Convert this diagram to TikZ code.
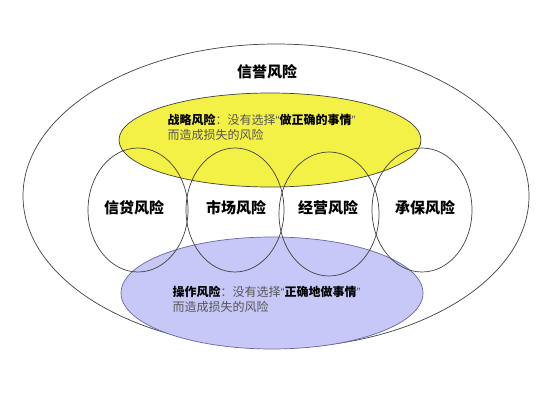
\documentclass[tikz,border=0pt]{standalone}
\usepackage{fontspec}
\newfontfamily\cjk{Noto Sans CJK SC}
\newfontfamily\qfont{Liberation Sans}
\definecolor{zlyellow}{RGB}{244,241,70}
\definecolor{czblue}{RGB}{200,200,248}
\definecolor{txtgray}{RGB}{85,85,85}
\newcommand{\openq}{{\qfont “}}
\newcommand{\closeq}{{\qfont ”}}

\begin{document}
\begin{tikzpicture}[x=1pt,y=-1pt,line width=0.7pt,
  rim/.style={draw=black!75},
  big/.style={font=\cjk\bfseries\fontsize{15}{18}\selectfont},
  note/.style={font=\cjk\fontsize{12}{15}\selectfont,align=left,anchor=west,text=txtgray}]
%\draw[help lines] (0,0) grid (553,415);
\useasboundingbox (0,0) rectangle (553,415);
\draw[rim] (276,196) ellipse (253 and 152);
\draw[rim,fill=zlyellow] (270,140) ellipse (151 and 47);
\draw[rim,draw=black!60!blue!60,fill=czblue] (272,293) ellipse (151 and 56);
\draw[rim] (138,210) ellipse (50 and 62);
\draw[rim] (235,210) ellipse (49 and 62);
\draw[rim] (329,214) ellipse (50 and 62);
\draw[rim] (422,210) ellipse (50 and 62);
\node[big] (xinyu) at (267,72) {信誉风险};
\node[big] (xindai) at (134,208) {信贷风险};
\node[big] (shichang) at (236,208) {市场风险};
\node[big] (jingying) at (328,208) {经营风险};
\node[big] (chengbao) at (425,208) {承保风险};
\node[note] (zhanlue) at (164,127) {\textcolor{black}{\bfseries 战略风险}：没有选择\openq\textcolor{black}{\bfseries 做正确的事情}\closeq\\而造成损失的风险};
\node[note] (caozuo) at (169,299) {\textcolor{black}{\bfseries 操作风险}：没有选择\openq\textcolor{black}{\bfseries 正确地做事情}\closeq\\而造成损失的风险};
\end{tikzpicture}
\end{document}
